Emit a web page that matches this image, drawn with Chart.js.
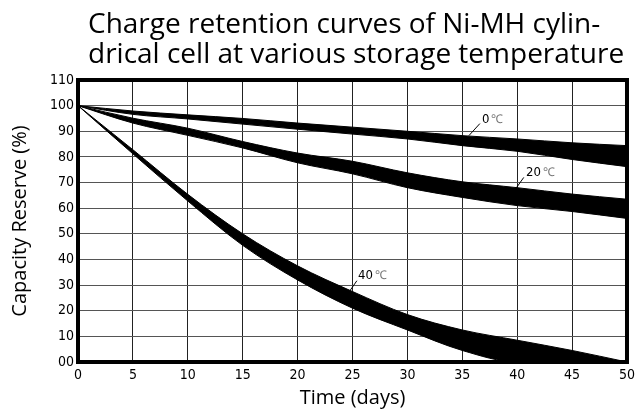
<!DOCTYPE html>
<html>
<head>
<meta charset="utf-8">
<script src="https://cdn.jsdelivr.net/npm/chart.js@4.4.1/dist/chart.umd.min.js"></script>
<style>
  html, body { margin: 0; padding: 0; background: #fff; }
  #wrap { width: 640px; height: 416px; }
</style>
</head>
<body>
<div id="wrap"><canvas id="chart"></canvas></div>
<script>
// storage time (days)
const days = [0, 5, 10, 15, 20, 25, 30, 35, 40, 45, 50];

// upper / lower edge of each retention band (%)
const hi0  = [100, 97.9, 96.4, 95.0, 93.2, 91.6, 90.0, 88.3, 87.0, 85.5, 84.4];
const lo0  = [100, 96.6, 94.8, 92.8, 90.8, 88.9, 87.0, 84.4, 82.2, 79.0, 76.2];
const hi20 = [100, 95.1, 91.2, 86.0, 81.5, 78.3, 73.8, 70.3, 68.0, 65.5, 63.5];
const lo20 = [100, 93.2, 88.4, 83.5, 77.7, 73.4, 68.0, 64.2, 61.0, 58.7, 56.0];
const hi40 = [100, 82.8, 65.4, 50.0, 37.5, 27.5, 18.5, 12.5, 8.5, 4.5, 0];
const lo40 = [100, 81.2, 62.8, 45.5, 32.0, 21.0, 12.5, 4.5, 0, 0, 0];

const xTickLabels = ['0', '5', '10', '15', '20', '25', '30', '35', '40', '45', '50'];
const yTickLabels = ['00', '10', '20', '30', '40', '50', '60', '70', '80', '90', '100', '110'];

const titleLines = ['Charge retention curves of Ni-MH cylin-', 'drical cell at various storage temperature'];

// curve labels: text, anchor [day, %], leader line [from, to]
const tempNames = ['0', '20', '40'];
const tempAt = [[36.8, 94.6], [40.8, 73.8], [25.5, 33.6]];
const leaderFrom = [[35.6, 88.3], [39.9, 67.8], [24.7, 27.4]];
const leaderTo = [[36.6, 93.0], [40.6, 72.0], [25.4, 31.7]];

const pts = (ys) => days.map((d, i) => ({ x: d, y: ys[i] }));

const band = (hi, lo) => [
    { data: pts(hi), borderColor: '#000', borderWidth: 1, fill: false },
    { data: pts(lo), borderColor: '#000', borderWidth: 1, backgroundColor: '#000', fill: '-1' },
];

const tickFont = { family: "'Liberation Sans Narrow', 'DejaVu Sans Condensed', sans-serif", size: 14 };
const axisFont = { family: "'Open Sans', sans-serif", size: 20 };

const framePlugin = {
    id: 'frame',
    afterDatasetsDraw(chart) {
        const { ctx, chartArea: a } = chart;
        ctx.save();
        ctx.strokeStyle = '#000';
        ctx.lineWidth = 4;
        ctx.strokeRect(a.left, a.top, a.right - a.left, a.bottom - a.top);
        ctx.restore();
    }
};

const textPlugin = {
    id: 'texts',
    afterDraw(chart) {
        const { ctx } = chart;
        const xs = chart.scales.x, ys = chart.scales.y;
        ctx.save();
        // title
        ctx.fillStyle = '#000';
        ctx.font = "28px 'Open Sans', sans-serif";
        ctx.textBaseline = 'alphabetic';
        ctx.textAlign = 'left';
        ctx.fillText(titleLines[0], 88, 33);
        ctx.fillText(titleLines[1], 88, 63);

        // temperature labels
        tempNames.forEach((t, i) => {
            ctx.strokeStyle = '#000';
            ctx.lineWidth = 1;
            ctx.beginPath();
            ctx.moveTo(xs.getPixelForValue(leaderFrom[i][0]), ys.getPixelForValue(leaderFrom[i][1]));
            ctx.lineTo(xs.getPixelForValue(leaderTo[i][0]), ys.getPixelForValue(leaderTo[i][1]));
            ctx.stroke();
            const px = xs.getPixelForValue(tempAt[i][0]);
            const py = ys.getPixelForValue(tempAt[i][1]);
            ctx.textBaseline = 'middle';
            ctx.font = "13px 'Liberation Sans Narrow', 'DejaVu Sans Condensed', sans-serif";
            ctx.fillStyle = '#000';
            ctx.fillText(t, px, py);
            const w = ctx.measureText(t).width;
            ctx.font = "12px 'Liberation Serif', serif";
            ctx.fillStyle = '#777';
            ctx.fillText('\u2103', px + w + 2, py);
        });
        ctx.restore();
    }
};

new Chart(
    document.getElementById('chart'),
    {
        type: 'line',
        data: {
            datasets: [...band(hi0, lo0), ...band(hi20, lo20), ...band(hi40, lo40)]
        },
        options: {
            responsive: true,
            maintainAspectRatio: false,
            animation: false,
            layout: { padding: { top: 80, right: 10, left: 4, bottom: 2 } },
            elements: {
                point: { radius: 0 },
                line: { cubicInterpolationMode: 'monotone' }
            },
            plugins: {
                legend: { display: false },
                tooltip: { enabled: false }
            },
            scales: {
                x: {
                    type: 'linear',
                    min: 0,
                    max: 50,
                    border: { display: false },
                    grid: { color: '#222', lineWidth: 1, drawTicks: false },
                    ticks: {
                        stepSize: 5,
                        color: '#000',
                        font: tickFont,
                        padding: 5,
                        maxRotation: 0,
                        callback: (v) => xTickLabels[days.indexOf(v)]
                    },
                    title: { display: true, text: 'Time (days)', color: '#000', font: axisFont, padding: { top: 4 } },
                    afterFit: (s) => { s.height = 52; }
                },
                y: {
                    min: 0,
                    max: 110,
                    border: { display: false },
                    grid: { color: '#555', lineWidth: 1, drawTicks: false },
                    ticks: {
                        stepSize: 10,
                        color: '#000',
                        font: tickFont,
                        padding: 4,
                        callback: (v) => yTickLabels[v / 10]
                    },
                    title: { display: true, text: 'Capacity Reserve (%)', color: '#000', font: axisFont, padding: { bottom: 6 } },
                    afterFit: (s) => { s.width = 74; }
                }
            }
        },
        plugins: [framePlugin, textPlugin]
    }
);
</script>
</body>
</html>
